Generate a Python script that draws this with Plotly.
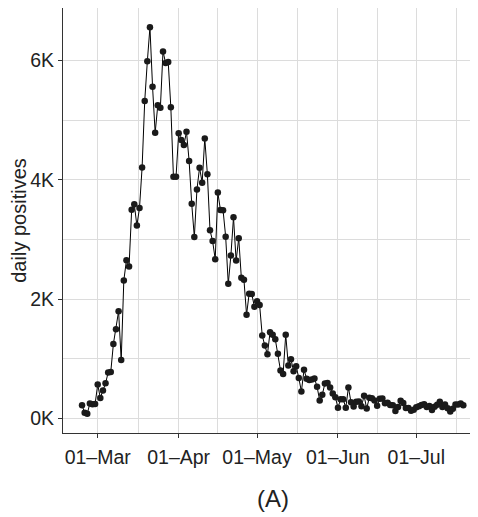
import pandas as pd
import plotly.graph_objects as go

# ---- data (daily new positives, 24 Feb -> 19 Jul 2020) ----
start_date = "2020-02-24"
daily_positives = [
    221, 93, 78, 250, 238, 240,                                   # Feb 24-29
    566, 342, 466, 587, 769, 778, 1247, 1492, 1797, 977,          # Mar 1-10
    2313, 2651, 2547, 3497, 3590, 3233, 3526, 4207, 5322, 5986,   # Mar 11-20
    6557, 5560, 4789, 5249, 5210, 6153, 5959, 5974, 5217, 4050, 4053,  # Mar 21-31
    4782, 4668, 4585, 4805, 4316, 3599, 3039, 3836, 4204, 3951,   # Apr 1-10
    4694, 4092, 3153, 2972, 2667, 3786, 3493, 3491, 3047, 2256,   # Apr 11-20
    2729, 3370, 2646, 3021, 2357, 2324, 1739, 2091, 2086, 1872,   # Apr 21-30
    1965, 1900, 1389, 1221, 1075, 1444, 1401, 1327, 1083, 802,    # May 1-10
    744, 1402, 888, 992, 789, 875, 675, 451, 813, 665,            # May 11-20
    642, 652, 669, 531, 300, 397, 584, 593, 516, 416, 355,        # May 21-31
    178, 318, 321, 177, 518, 270, 197, 280, 283, 202,             # Jun 1-10
    379, 163, 346, 338, 301, 210, 329, 333, 251, 262,             # Jun 11-20
    224, 218, 122, 190, 296, 259, 175, 174, 126, 142,             # Jun 21-30
    187, 201, 223, 235, 192, 208, 138, 193, 229, 276,             # Jul 1-10
    188, 234, 169, 114, 162, 230, 233, 249, 219,                  # Jul 11-19
]
dates = pd.date_range(start_date, periods=len(daily_positives), freq="D")

x_tick_vals = ["2020-03-01", "2020-04-01", "2020-05-01", "2020-06-01", "2020-07-01"]
x_tick_text = ["01–Mar", "01–Apr", "01–May", "01–Jun", "01–Jul"]
x_minor_vals = ["2020-03-16 12:00", "2020-04-16", "2020-05-16 12:00",
                "2020-06-16", "2020-07-16 12:00"]
y_tick_vals = [0, 2000, 4000, 6000]
y_tick_text = ["0K", "2K", "4K", "6K"]
y_minor_vals = [1000, 3000, 5000]

FONT = "Liberation Sans, Arial, sans-serif"
GRID = "#dcdcdc"
AXIS = "#333333"

fig = go.Figure(
    go.Scatter(
        x=dates, y=daily_positives, mode="lines+markers",
        line=dict(color="#000000", width=1),
        marker=dict(color="#1a1a1a", size=6.5),
        showlegend=False,
    )
)

fig.update_layout(
    width=470, height=509,
    margin=dict(l=55, r=0, t=0, b=84),
    paper_bgcolor="white", plot_bgcolor="white",
    font=dict(family=FONT, size=19.5, color="#222222"),
    xaxis=dict(
        range=["2020-02-16 17:00", "2020-07-24 15:00"],
        tickmode="array", tickvals=x_tick_vals, ticktext=x_tick_text,
        ticks="outside", ticklen=4, tickcolor=AXIS, tickwidth=1,
        ticklabelstandoff=2,
        showgrid=True, gridcolor=GRID, gridwidth=1,
        minor=dict(tickmode="array", tickvals=x_minor_vals, showgrid=True,
                   gridcolor=GRID, gridwidth=1, ticks=""),
        showline=True, linecolor=AXIS, linewidth=1.2, mirror=True,
        zeroline=False, fixedrange=True,
    ),
    yaxis=dict(
        range=[-246, 6881],
        tickmode="array", tickvals=y_tick_vals, ticktext=y_tick_text,
        ticks="outside", ticklen=4, tickcolor=AXIS, tickwidth=1,
        showgrid=True, gridcolor=GRID, gridwidth=1,
        minor=dict(tickmode="array", tickvals=y_minor_vals, showgrid=True,
                   gridcolor=GRID, gridwidth=1, ticks=""),
        showline=True, linecolor=AXIS, linewidth=1.2, mirror=False,
        zeroline=False,
        title=dict(text="daily positives", font=dict(size=20, color="#222222"), standoff=2),
    ),
    annotations=[
        dict(text="(A)", xref="paper", yref="paper", x=0.506, y=0,
             yshift=-65, xanchor="center", yanchor="middle", showarrow=False,
             font=dict(size=24, color="#222222", family=FONT)),
    ],
)

fig.write_html("out.html", config={"displayModeBar": False})
